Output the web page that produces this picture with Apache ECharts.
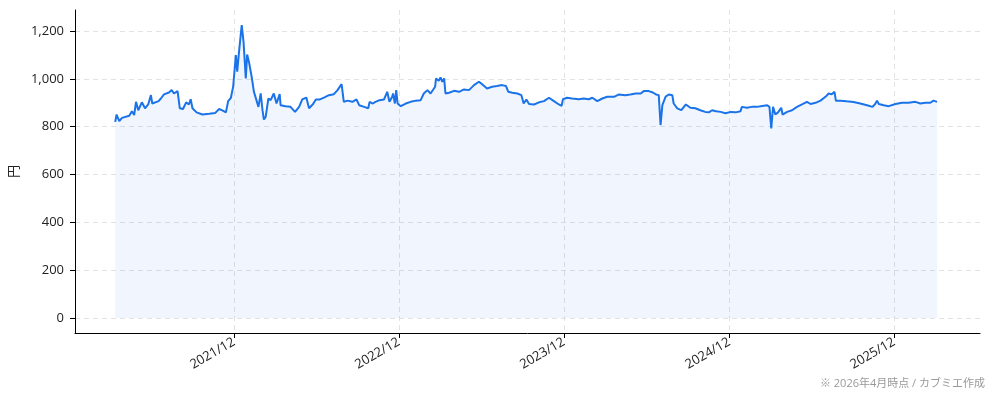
<!DOCTYPE html>
<html><head><meta charset="utf-8">
<script src="https://cdn.jsdelivr.net/npm/echarts@6/dist/echarts.min.js"></script>
<style>html,body{margin:0;padding:0;background:#fff}#c{width:994px;height:401px}</style>
</head><body><div id="c"></div>
<script>
const dates = [
'2021-03-13','2021-03-16','2021-03-22','2021-03-28','2021-04-13','2021-04-19','2021-04-24','2021-04-28','2021-05-03','2021-05-11',
'2021-05-18','2021-05-25','2021-05-31','2021-06-03','2021-06-17','2021-06-22','2021-06-29','2021-07-10','2021-07-16','2021-07-21',
'2021-07-25','2021-07-29','2021-08-03','2021-08-10','2021-08-17','2021-08-23','2021-08-27','2021-08-31','2021-09-09','2021-09-22',
'2021-10-07','2021-10-20','2021-10-29','2021-11-05','2021-11-13','2021-11-18','2021-11-24','2021-11-29','2021-12-05','2021-12-08',
'2021-12-12','2021-12-18','2021-12-22','2021-12-27','2021-12-30','2022-01-03','2022-01-09','2022-01-14','2022-01-24','2022-01-29',
'2022-02-02','2022-02-05','2022-02-09','2022-02-15','2022-02-20','2022-02-27','2022-03-05','2022-03-12','2022-03-14','2022-03-25',
'2022-04-05','2022-04-15','2022-04-24','2022-05-01','2022-05-10','2022-05-16','2022-05-25','2022-05-31','2022-06-09','2022-06-18',
'2022-06-29','2022-07-10','2022-07-18','2022-07-27','2022-08-01','2022-08-09','2022-08-20','2022-08-29','2022-09-04','2022-09-15',
'2022-09-24','2022-09-27','2022-10-04','2022-10-10','2022-10-19','2022-10-29','2022-11-05','2022-11-10','2022-11-16','2022-11-18',
'2022-11-22','2022-11-25','2022-11-28','2022-12-05','2022-12-16','2022-12-27','2023-01-07','2023-01-18','2023-01-25','2023-02-02',
'2023-02-09','2023-02-19','2023-02-21','2023-02-27','2023-03-03','2023-03-07','2023-03-11','2023-03-14','2023-03-22','2023-04-02',
'2023-04-13','2023-04-24','2023-05-05','2023-05-16','2023-05-27','2023-06-03','2023-06-14','2023-06-25','2023-07-06','2023-07-17',
'2023-07-26','2023-07-31','2023-08-09','2023-08-20','2023-08-29','2023-09-03','2023-09-09','2023-09-15','2023-09-26','2023-10-07',
'2023-10-18','2023-10-29','2023-11-09','2023-11-20','2023-11-26','2023-11-29','2023-12-08','2023-12-19','2024-01-03','2024-01-14',
'2024-01-25','2024-02-02','2024-02-13','2024-02-24','2024-03-06','2024-03-09','2024-03-21','2024-04-01','2024-04-15','2024-04-26',
'2024-05-08','2024-05-19','2024-05-26','2024-06-06','2024-06-15','2024-06-22','2024-06-28','2024-07-02','2024-07-06','2024-07-13',
'2024-07-20','2024-07-28','2024-07-31','2024-08-08','2024-08-17','2024-08-27','2024-09-06','2024-09-17','2024-09-28','2024-10-09',
'2024-10-17','2024-10-24','2024-11-02','2024-11-12','2024-11-23','2024-12-04','2024-12-15','2024-12-26','2024-12-29','2025-01-09',
'2025-01-20','2025-01-31','2025-02-12','2025-02-23','2025-02-28','2025-03-04','2025-03-08','2025-03-13','2025-03-19','2025-03-26',
'2025-03-29','2025-04-08','2025-04-19','2025-04-30','2025-05-11','2025-05-22','2025-05-30','2025-06-10','2025-06-21','2025-07-02',
'2025-07-09','2025-07-16','2025-07-22','2025-07-25','2025-08-04','2025-08-18','2025-09-02','2025-09-17','2025-10-02','2025-10-14',
'2025-10-20','2025-10-24','2025-10-28','2025-11-08','2025-11-19','2025-12-04','2025-12-18','2026-01-02','2026-01-17','2026-01-28',
'2026-02-08','2026-02-19','2026-02-26','2026-03-06'
];
const prices = [
820,851,823,837,846,865,849,904,869,902,
877,893,932,897,907,918,935,943,953,939,
932,949,877,874,902,893,915,877,860,851,
854,857,874,868,860,907,921,967,1099,1030,
1113,1225,1155,1002,1102,1071,1009,946,883,939,
869,830,841,918,911,939,897,936,890,886,
883,862,883,914,922,877,895,914,914,922,
932,936,953,978,904,909,904,914,890,883,
877,904,897,904,911,914,946,904,925,939,
897,953,897,886,897,904,909,911,939,953,
939,967,1002,992,1006,988,1002,939,942,950,
946,956,953,974,988,978,960,967,970,974,
970,946,942,939,932,897,914,895,893,902,
907,921,907,893,887,915,921,918,915,918,
915,921,907,918,925,918,925,935,932,935,
939,939,949,949,943,935,932,807,890,925,
935,932,897,877,869,893,879,877,869,862,
860,869,865,862,856,862,860,865,883,879,
883,883,887,890,883,793,883,851,860,879,
851,862,869,883,893,904,895,900,909,925,
939,936,946,909,909,906,903,897,890,883,
895,909,895,890,886,895,900,900,904,897,
900,900,909,904
];
const tickDates = ['2021-12-01','2022-12-01','2023-12-01','2024-12-01','2025-12-01'];
const yTicks = [0,200,400,600,800,1000,1200];
const xRange = ['2020-12-14','2026-06-09'];
const yRange = [-62.5,1288];
const yName = '円';
const footnote = '※ 2026年4月時点 / カブミエ作成';

const FONT = '"Open Sans", "Noto Sans CJK JP", sans-serif';
const ts = s => new Date(s + 'T00:00:00Z').getTime();
const seriesData = dates.map((d, i) => [ts(d), prices[i]]);
const tickTs = tickDates.map(ts);

const chart = echarts.init(document.getElementById('c'), null, {renderer: 'canvas'});
chart.setOption({
  animation: false,
  backgroundColor: '#fff',
  textStyle: {fontFamily: FONT},
  grid: {left: 75, right: 14, top: 10, bottom: 68, containLabel: false, outerBoundsMode: 'none'},
  xAxis: {
    type: 'value',
    min: ts(xRange[0]), max: ts(xRange[1]),
    axisLine: {show: true, onZero: false, lineStyle: {color: '#000', width: 1}},
    axisTick: {show: true, customValues: tickTs, length: 5, lineStyle: {color: '#000'}},
    axisLabel: {
      customValues: tickTs, rotate: 30, color: '#222', fontSize: 13, fontFamily: FONT, margin: 8,
      formatter: v => { const d = new Date(v); return d.getUTCFullYear() + '/' + String(d.getUTCMonth() + 1).padStart(2, '0'); }
    },
    splitLine: {show: true, lineStyle: {color: '#e2e2e2', type: [5, 4], width: 1}},
    minorTick: {show: false}
  },
  yAxis: {
    type: 'value',
    min: yRange[0], max: yRange[1],
    name: yName, nameLocation: 'middle', nameGap: 53, nameRotate: 90,
    nameTextStyle: {color: '#222', fontSize: 13, fontFamily: '"Noto Sans CJK JP", sans-serif'},
    axisLine: {show: true, lineStyle: {color: '#000', width: 1}},
    axisTick: {show: true, customValues: yTicks, length: 5, lineStyle: {color: '#000'}},
    axisLabel: {customValues: yTicks, color: '#222', fontSize: 13, fontFamily: FONT, margin: 11,
      formatter: v => Number(v).toLocaleString('en-US')},
    splitLine: {show: true, lineStyle: {color: '#e2e2e2', type: [5, 4], width: 1}}
  },
  series: [{
    type: 'line',
    data: seriesData,
    showSymbol: false,
    lineStyle: {color: '#1a73e8', width: 2},
    itemStyle: {color: '#1a73e8'},
    areaStyle: {color: 'rgba(26,115,232,0.09)', origin: 0}
  }],
  graphic: [{
    type: 'text', right: 9, top: 378,
    style: {text: footnote, fill: '#999', fontSize: 11, fontFamily: FONT, letterSpacing: 0.5}
  }]
});
</script></body></html>
